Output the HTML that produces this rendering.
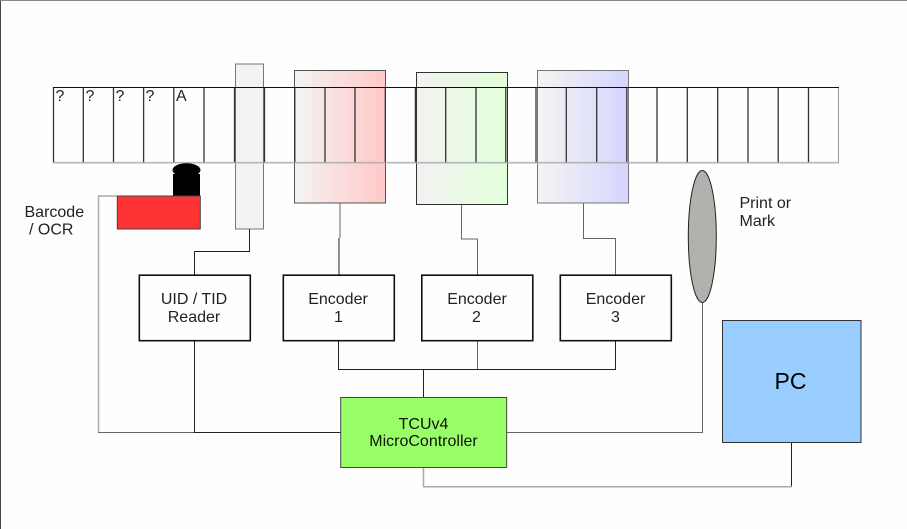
<!DOCTYPE html>
<html>
<head>
<meta charset="utf-8">
<style>
html,body{margin:0;padding:0;background:#fefefe;width:907px;height:529px;overflow:hidden}
svg{display:block}
text{font-family:"Liberation Sans",Arial,sans-serif;font-size:16px;fill:#222}
.m{text-anchor:middle}
.d{fill:none;stroke:#222;stroke-width:1}
.g{fill:none;stroke:#aaa;stroke-width:1.5}
.k{fill:none;stroke:#666;stroke-width:1}
.b{fill:#fefefe;stroke:#111;stroke-width:1.6}
</style>
</head>
<body>
<svg width="907" height="529" viewBox="0 0 907 529" xmlns="http://www.w3.org/2000/svg">
<defs>
<linearGradient id="r"><stop offset="0" stop-color="#f4f4f2"/><stop offset="1" stop-color="#ffc8c8"/></linearGradient>
<linearGradient id="gr"><stop offset="0" stop-color="#f2f2f1"/><stop offset="1" stop-color="#e2ffda"/></linearGradient>
<linearGradient id="bl"><stop offset="0" stop-color="#f4f4f2"/><stop offset="1" stop-color="#d5d5ff"/></linearGradient>
</defs>

<!-- page edge -->
<rect x="0" y="0" width="1" height="529" fill="#444"/>
<rect x="0" y="0" width="907" height="1" fill="#888"/>

<!-- translucent tall boxes -->
<rect x="235.5" y="64" width="28" height="165" fill="#f2f4f2" stroke="#777" stroke-width="1"/>
<rect x="294.5" y="70.5" width="91" height="132.5" fill="url(#r)" stroke="#555" stroke-width="1"/>
<rect x="416.5" y="72.5" width="91" height="132" fill="url(#gr)" stroke="#333" stroke-width="1"/>
<rect x="537.5" y="70.5" width="91" height="132.5" fill="url(#bl)" stroke="#777" stroke-width="1"/>

<!-- tape cells: verticals -->
<g stroke="#333" stroke-width="1.3" fill="none">
<path d="M53.5 87V163M83.3 87V163M113.5 87V163M143.6 87V163M173.8 87V163M204 87V163M234.5 87V163M264.5 87V163M294.8 87V163M325 87V163M355 87V163M385.3 87V163M415.4 87V163M445.7 87V163M476 87V163M505.8 87V163M536 87V163M566.3 87V163M596.7 87V163M626.8 87V163M657 87V163M687.3 87V163M717.7 87V163M748 87V163M778.2 87V163M808.5 87V163"/>
</g>
<path d="M838.5 87V163" stroke="#999" stroke-width="1" fill="none"/>
<path d="M53 87.5H839" stroke="#111" stroke-width="1" fill="none"/>
<path d="M53 162.7H839" stroke="#aaa" stroke-width="1.7" fill="none" opacity=".85"/>

<text x="55.5" y="101">?</text>
<text x="85.5" y="101">?</text>
<text x="115.5" y="101">?</text>
<text x="145.5" y="101">?</text>
<text x="176" y="101">A</text>

<!-- connectors -->
<path class="g" d="M117 196H98.5V432"/>
<path class="k" d="M98 432.5H195"/>
<path class="d" d="M249.5 229V251.5H194.5V275"/>
<path class="k" d="M340 203V238"/>
<path class="d" d="M339 238V275"/>
<path class="k" d="M461.5 205V239H477.5V275"/>
<path class="k" d="M583.5 203V238.5H615.5V275"/>
<path class="d" d="M338.5 341V369.5H615.5V341"/>
<path class="k" d="M477.5 341V369"/>
<path class="d" d="M423.5 369.5V397"/>
<path class="d" d="M194.5 341V432.5H341"/>
<path class="k" d="M507 432.5H702.5V303"/>
<path class="d" d="M791.5 442V487"/>
<path class="g" d="M792 486.7H423.5V468"/>

<!-- barcode scanner -->
<ellipse cx="186.5" cy="170" rx="14" ry="6.8" fill="#000"/>
<rect x="173" y="174" width="27" height="23" fill="#000"/>
<rect x="117.3" y="196" width="83" height="33" fill="#ff3333" stroke="#444" stroke-width="1"/>
<text x="24.5" y="217">Barcode</text>
<text x="29" y="234.5">/ OCR</text>

<!-- printer -->
<ellipse cx="702.3" cy="236.5" rx="14" ry="66" fill="#b0b2ae" stroke="#222" stroke-width="1"/>
<text x="739.5" y="208">Print or</text>
<text x="739.5" y="226">Mark</text>

<!-- boxes -->
<rect class="b" x="139.3" y="275.2" width="111" height="65.5"/>
<text class="m" x="194" y="304">UID / TID</text>
<text class="m" x="194" y="322">Reader</text>

<rect class="b" x="283.3" y="275.2" width="111" height="65.5"/>
<text class="m" x="338" y="304">Encoder</text>
<text class="m" x="338.5" y="322">1</text>

<rect class="b" x="421.8" y="275.2" width="111" height="65.5"/>
<text class="m" x="477" y="304">Encoder</text>
<text class="m" x="476.5" y="322">2</text>

<rect class="b" x="560.3" y="275.2" width="111" height="65.5"/>
<text class="m" x="615.5" y="304">Encoder</text>
<text class="m" x="615.5" y="322">3</text>

<rect x="340.7" y="397.5" width="166" height="70" fill="#99ff66" stroke="#444" stroke-width="1"/>
<text class="m" x="423.5" y="429" style="fill:#111">TCUv4</text>
<text class="m" x="423.5" y="446" style="fill:#111">MicroController</text>

<rect x="722.5" y="320.5" width="138.5" height="122" fill="#99ccff" stroke="#333" stroke-width="1"/>
<text class="m" x="790.5" y="389" style="font-size:23px;fill:#000">PC</text>
</svg>
</body>
</html>
